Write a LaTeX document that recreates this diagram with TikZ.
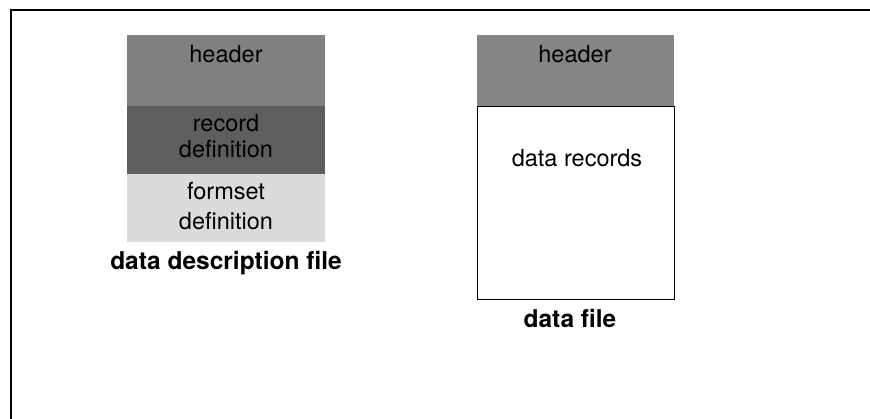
\documentclass[tikz,border=0pt]{standalone}
\usepackage{fontspec}
\setmainfont{TeX Gyre Heros}
\begin{document}
\begin{tikzpicture}[x=1pt,y=-1pt,
  band/.style={draw=none,inner sep=0pt,outer sep=0pt},
  boxtext/.style={anchor=base,inner sep=0pt,font=\fontsize{23.5}{28}\selectfont},
  captext/.style={anchor=base,inner sep=0pt,font=\fontsize{24.5}{29}\selectfont\bfseries}]
\useasboundingbox (0,0) rectangle (870,419);
% outer frame (left and top sides)
\coordinate (fbl) at (11,419);
\coordinate (ftl) at (11,10);
\coordinate (ftr) at (870,10);
\draw[line width=2pt] (fbl) -- (ftl) -- (ftr);
% data description file
\fill[black!50] (127,35) rectangle (325,106) coordinate (lh);
\fill[black!63] (127,106) rectangle (325,174);
\fill[black!14] (127,174) rectangle (325,242);
\node[boxtext] (lhead) at (226,63) {header};
\node[boxtext] (lrec1) at (226,132) {record};
\node[boxtext] (lrec2) at (226,158) {definition};
\node[boxtext] (lform1) at (226,200) {formset};
\node[boxtext] (lform2) at (226,230) {definition};
\node[captext] (ldesc) at (226,270) {data description file};
% data file
\fill[black!48] (477,35) rectangle (674,106);
\draw[line width=0.9pt] (477,106) rectangle (674,299);
\node[boxtext] (rhead) at (575,63) {header};
\node[boxtext] (rrec) at (577,167) {data records};
\node[captext] (rdesc) at (570,328) {data file};
\end{tikzpicture}
\end{document}
